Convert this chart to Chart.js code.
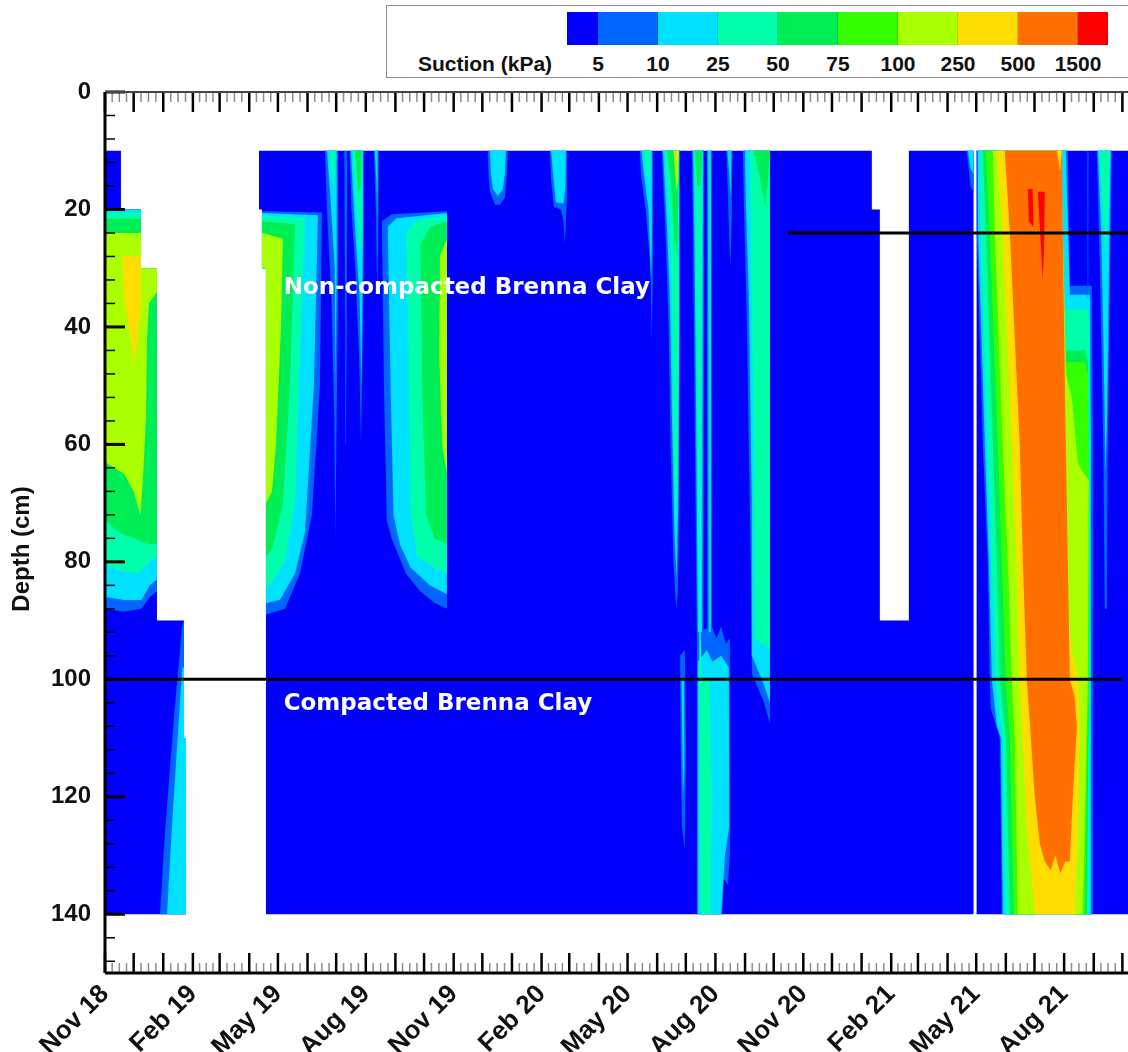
<!DOCTYPE html>
<html>
<head>
<meta charset="utf-8">
<script src="https://cdn.jsdelivr.net/npm/chart.js@4.4.1/dist/chart.umd.min.js"></script>
<style>
  html, body { margin: 0; padding: 0; background: #fff; overflow: hidden; }
  #wrap { position: relative; width: 1160px; height: 1052px; }
  #legend { position: absolute; left: 386px; top: 5px; width: 780px; height: 71px;
            border: 1px solid #8a8a8a; background: #fff; color: #111;
            font: bold 21px "Liberation Sans", Arial, sans-serif; }
  #legend .sw { position: absolute; top: 6px; height: 33px; }
  #legend .lab { position: absolute; top: 46px; transform: translateX(-50%); white-space: nowrap; }
</style>
</head>
<body>
<div id="wrap">
  <canvas id="chart" width="1160" height="1052"></canvas>
  <div id="legend"></div>
</div>
<script>
// ---- suction classes ----
const levelColors = ['#0000fa', '#0066ff', '#00e0ff', '#00ffaa', '#00ee55',
                     '#33ff00', '#aaff00', '#ffdd00', '#ff7000', '#ff0000'];
const levelLabels = ['5', '10', '25', '50', '75', '100', '250', '500', '1500'];

// ---- axes ----
const quarterLabels = ['Nov 18', 'Feb 19', 'May 19', 'Aug 19', 'Nov 19', 'Feb 20',
                       'May 20', 'Aug 20', 'Nov 20', 'Feb 21', 'May 21', 'Aug 21'];
const depthTicks = [0, 20, 40, 60, 80, 100, 120, 140];

// ---- layer boundaries and labels (x = days since 1 Nov 2018, y = depth cm) ----
const boundaryDepth = [100, 24];
const boundaryFrom = [0, 715];
const boundaryTo = [1065, 1096];
const soilLabels = ['Non-compacted Brenna Clay', 'Compacted Brenna Clay'];
const soilLabelDepth = [33.4, 104.2];
const soilLabelDay = 187;

// ---- contour regions: [suction class, polygon of [day, depth]] ----
const measured = [
  [0, [[0,10],[16.7,10],[16.7,20],[37.7,20],[37.7,30],[54.4,30],[54.4,90],[82.7,90],[82.7,110],[84.8,110],[84.8,140],[0,140]]],
  [0, [[161.2,10],[802.7,10],[802.7,20],[811.1,20],[811.1,90],[841.5,90],[841.5,10],[909.2,10],[909.2,140],[168.5,140],[168.5,30],[164.3,30],[164.3,20],[161.2,20]]],
  [0, [[912.4,10],[1096,10],[1096,140],[912.4,140]]]
];

const winter18 = [
  [1, [[0,20],[37.7,20],[37.7,30],[54.4,30],[54.4,85],[47,86],[38,88],[20,88.5],[0,88]]],
  [2, [[0,20],[37.7,20],[37.7,30],[54.4,30],[54.4,83],[47,84],[38,86.5],[20,86.5],[0,86]]],
  [3, [[0,20.6],[37.7,20.6],[37.7,30],[54.4,30.5],[54.4,79],[47,80],[35,82],[15,81.5],[0,80.5]]],
  [4, [[0,21.6],[37.7,21.6],[37.7,30],[54.4,31.5],[54.4,77],[45,77],[30,76],[15,75],[0,73]]],
  [6, [[0,24],[37.7,24],[37.7,30],[54.4,30],[54.4,34],[46,36],[44,42],[43,55],[40,65],[37,72],[30,68],[20,65],[0,63]]],
  [7, [[17.8,28],[37.7,28],[37.7,36],[35,41],[31,46],[27,42],[20,35]]],
  [1, [[80.6,91],[82.7,90],[82.7,110],[84.8,110],[84.8,140],[57.6,140],[62,128],[68,115],[74,103],[78,96]]],
  [2, [[81,98],[82.7,98],[82.7,110],[84.8,110],[84.8,140],[64.9,140],[69,128],[74,115],[78,105]]]
];

const summer19 = [
  [1, [[164.3,20.3],[227.1,20.5],[225,50],[216.6,72],[204.1,82],[188.4,88],[168.5,89],[168.5,30],[164.3,30]]],
  [2, [[164.3,20.6],[222.9,21],[218.7,50],[209.3,75],[198.9,82],[183.2,86.5],[168.5,87],[168.5,30],[164.3,30]]],
  [3, [[164.3,21],[209.3,21.5],[204.1,45],[198.9,70],[188.4,80],[172.7,84],[168.5,84],[168.5,30],[164.3,30]]],
  [4, [[164.3,22],[198.9,22.5],[193.6,50],[186.3,70],[174.8,78],[168.5,79],[168.5,30],[164.3,30]]],
  [6, [[164.3,24],[186.3,25],[184.2,40],[179,60],[174.8,68],[168.5,70],[168.5,30],[164.3,30]]],
  [1, [[230.3,10],[243.9,10],[243.9,35],[242.5,55],[241.2,76],[240,55],[237,35],[232.3,20]]],
  [2, [[232.3,10],[242.5,10],[242.5,30],[241.5,50],[240.5,30],[236,18]]],
  [3, [[235,10],[241,10],[240,16],[237.5,15]]],
  [1, [[250.5,10],[253.5,10],[253,40],[252,60],[251.5,40]]],
  [1, [[256,10],[271,10],[271,25],[269.5,45],[268,60],[266,45],[262,30],[258,20]]],
  [2, [[257.5,10],[270,10],[270,25],[268.5,50],[266.5,35],[262.5,25],[259.5,17]]],
  [3, [[259.5,10],[269.5,10],[269,22],[267,28],[264,22],[261.5,15]]],
  [4, [[262,10],[268.5,10],[268,16],[265,17]]],
  [1, [[281.5,10],[286.5,10],[286,25],[285,35],[283.5,20]]],
  [2, [[282.5,10],[285.5,10],[285,22],[284,15]]]
];

const autumn19 = [
  [1, [[289.9,22],[300,20.8],[357.9,20.3],[357.9,88],[345,87],[330,85],[315,82],[300,76],[295,73],[292,50]]],
  [2, [[296,23],[305,21.5],[357.9,20.6],[357.9,85.5],[340,84],[320,81],[308.7,77],[302,72],[299,50]]],
  [3, [[315,24],[325,22],[357.9,21],[357.9,82],[345,81],[326.5,79],[320,72],[318,45],[316,30]]],
  [4, [[330,26],[340,23],[357.9,22],[357.9,77],[345,76],[336,72],[332,50],[331,35]]],
  [6, [[350.6,28],[357.9,25],[357.9,65],[353,60],[350,45]]]
];

const winter20 = [
  [1, [[400.8,10],[421.8,10],[420.5,14],[418.6,18],[413.4,19.2],[408.2,19.2],[403,17],[401.5,14]]],
  [2, [[402.9,10],[419.7,10],[418.6,14],[416.5,16.5],[411.3,17.7],[406.1,16.5],[404,14]]],
  [1, [[465.7,10],[483.5,10],[483.5,18],[482.5,22],[481.4,26],[480,22],[477,20],[470,19.6],[467,15]]],
  [2, [[467,10],[482.5,10],[482,16],[480,19],[472,18.8],[469,14]]]
];

const summer20 = [
  [1, [[559.9,10],[573.5,10],[573.5,30],[572.5,43],[571,30],[566,20],[561,14]]],
  [2, [[561.5,10],[572.5,10],[572.5,25],[571.5,32],[569,20],[564,14]]],
  [3, [[564,10],[571,10],[570,15],[567,14]]],
  [1, [[583,10],[601.8,10],[601.8,40],[600.7,70],[599.7,85],[598,88],[595,80],[592,60],[590,40],[587,25]]],
  [2, [[584,10],[601,10],[601,40],[600,70],[598.5,83],[596,75],[593.4,55],[591.3,35],[588,22]]],
  [3, [[586,10],[600.5,10],[600.5,40],[599.7,65],[597.5,75],[595.5,60],[594,40],[591.3,22]]],
  [4, [[588,10],[600.5,10],[600,20],[599,28],[596,25],[592,15]]],
  [6, [[595,10],[600.5,10],[600,15],[598,17],[596.6,13]]],
  [7, [[597.5,10],[600.5,10],[599.7,12.5]]],
  [1, [[602,96],[607,95],[608,110],[607,129],[604,125],[602.5,110]]],
  [2, [[603.5,100],[606,100],[606.5,115],[605,120]]],
  [1, [[614.4,10],[627,10],[626.5,50],[626,92],[619.6,92],[617,50],[615.5,25]]],
  [1, [[630,10],[635.3,10],[635.3,92],[630.5,92],[630,50]]],
  [1, [[619.6,92],[635.3,91],[640,93],[645,91],[650,94],[654.1,93],[654.1,130],[652,135],[648,134],[646,140],[619.6,140]]],
  [2, [[615.5,10],[626,10],[625.5,50],[625,92],[620.6,92],[618.5,50],[617,25]]],
  [2, [[631,10],[634.3,10],[634.3,92],[632,92]]],
  [2, [[620.6,97],[630,95],[636,97],[645,96],[653,98],[653.5,125],[649,130],[645,140],[620.6,140]]],
  [3, [[617,10],[625,10],[624.5,50],[623.5,92],[622,92],[620,50],[618.5,25]]],
  [3, [[622,92],[623.5,92],[625,100],[633,100],[635.3,120],[634,140],[623.5,140],[622.5,110]]],
  [4, [[617.5,10],[625,10],[624,16],[620,16]]],
  [1, [[650.5,10],[656.7,10],[656,22],[654.5,30],[652.5,20]]],
  [2, [[651.5,10],[655.7,10],[655,18],[653.5,14]]],
  [1, [[667.7,10],[696,10],[696,107.5],[690,104],[677.2,99],[676,80],[672,40],[669,20]]],
  [2, [[669.8,10],[696,10],[696,104],[690,101],[677.2,96],[677,70],[674,35],[671,20]]],
  [3, [[675.1,10],[696,10],[696,95],[680.3,93],[679,60],[677,35],[676,20]]],
  [4, [[679,10],[696,10],[694,15],[690.8,19.5],[686,15],[682,12]]]
];

const summer21 = [
  [1, [[902,10],[909.2,10],[909.2,17],[906,16],[904,13]]],
  [2, [[903.2,10],[909.2,10],[909.2,14],[906,13]]],
  [1, [[912.4,10],[912.6,24],[918.9,60],[924.1,80],[926.2,100],[927.3,105],[936.7,110],[937.8,125],[938.8,140],[1034.1,140],[1034.1,60],[1033,33],[1010,33],[1007.9,10]]],
  [2, [[913.7,10],[914,24],[921,60],[925.2,80],[928.3,100],[933.6,108],[937.8,110],[939.8,140],[1032,140],[1032,60],[1031,34.5],[1010,34.5],[1005.8,10]]],
  [3, [[915.8,10],[916.8,24],[924.1,60],[928.3,80],[932.5,100],[939.8,110],[943,140],[1029.9,140],[1030.9,100],[1030.9,60],[1030,40],[1029,37],[1005,37],[1003.5,30],[1001,10]]],
  [4, [[918.9,10],[922.1,24],[929.4,60],[933.6,80],[936.7,100],[943,110],[947.2,140],[1027.8,140],[1029.9,100],[1029.9,65],[1028.8,46],[1026,44],[1005.5,44],[1003.5,30],[1001,10]]],
  [5, [[922.1,10],[926.2,24],[934.6,60],[938.8,80],[943,100],[947.2,110],[951.4,140],[1025.7,140],[1029.9,100],[1029.9,65],[1028.8,48],[1026,46],[1006,46],[1003.5,30],[1001,10]]],
  [6, [[929.4,10],[931.5,24],[939.8,60],[945.1,80],[949.3,100],[952.4,110],[955.5,140],[1023.6,140],[1028.8,100],[1029.9,66],[1022.5,64.5],[1018.4,63],[1012,52],[1006,48],[1003.5,30],[1001,10]]],
  [7, [[933.6,10],[939.8,24],[949.3,60],[954.5,80],[957.6,100],[965,125],[973.3,140],[1015.2,140],[1018.4,125],[1020.4,110],[1019,100],[1012,95],[1008.5,90],[1007.9,80],[1005.8,60],[1003,30],[1001,10]]],
  [8, [[941.9,10],[947.2,24],[957.6,60],[960.8,80],[965,100],[973.3,120],[978.6,128],[983.8,131],[990,132.5],[995,130],[1000,133],[1005,131],[1010,131],[1013.1,120],[1017.3,108],[1015,103],[1010,100],[1007.9,80],[1005.8,60],[1002.6,24],[1001.6,10]]],
  [7, [[996.5,10],[1001.6,10],[1000,13.5]]],
  [9, [[966,16.5],[971,16.5],[972,23],[967,22]]],
  [9, [[976.5,17],[983.8,17],[983,27],[981.5,32],[980,27]]],
  [1, [[1028.3,10],[1029.5,10],[1029.2,35],[1028.6,35]]],
  [1, [[1038.3,10],[1053.9,10],[1052,30],[1049.7,60],[1048.7,88],[1046.6,88],[1045,60],[1041.4,30]]],
  [2, [[1039.3,10],[1052.8,10],[1051,30],[1049,55],[1047.5,65],[1046,50],[1043,25]]],
  [3, [[1041.4,10],[1051.8,10],[1050,20],[1047,28],[1044.5,20]]]
];

const regions = [measured, winter18, summer19, autumn19, winter20, summer20, summer21];

// month starts for the time axis
const t0 = Date.UTC(2018, 10, 1);
const monthStarts = [];
for (let m = 0; m <= 36; m++) monthStarts.push((Date.UTC(2018, 10 + m, 1) - t0) / 864e5);
const quarterDays = monthStarts.filter((d, i) => i % 3 === 0 && i < 36);

// ---- datasets ----
const datasets = [];
regions.forEach(group => group.forEach(([lvl, pts]) => {
  datasets.push({
    data: pts.map(([x, y]) => ({ x, y })),
    backgroundColor: levelColors[lvl],
    borderColor: 'rgba(0,0,0,0)',
    borderWidth: 0,
    fill: 'shape',
    pointRadius: 0,
    order: -datasets.length
  });
}));
boundaryDepth.forEach((z, i) => {
  datasets.push({
    data: [{ x: boundaryFrom[i], y: z }, { x: boundaryTo[i], y: z }],
    borderColor: '#000',
    borderWidth: 3,
    fill: false,
    pointRadius: 0,
    order: -10000 - i
  });
});

const axisFont = { family: '"Liberation Sans", Arial, sans-serif', size: 24, weight: 'bold' };

const framePlugin = {
  id: 'frame',
  afterDatasetsDraw(chart) {
    const { ctx, scales: { x, y } } = chart;
    ctx.save();
    ctx.fillStyle = '#fff';
    ctx.font = 'bold 23px "DejaVu Sans", sans-serif';
    ctx.textBaseline = 'middle';
    soilLabels.forEach((t, i) => {
      ctx.fillText(t, x.getPixelForValue(soilLabelDay), y.getPixelForValue(soilLabelDepth[i]));
    });
    ctx.restore();
  },
  afterDraw(chart) {
    const { ctx, chartArea: a, scales: { x, y } } = chart;
    const seg = (x1, y1, x2, y2) => { ctx.beginPath(); ctx.moveTo(x1, y1); ctx.lineTo(x2, y2); ctx.stroke(); };
    ctx.save();
    // minor time ticks
    ctx.strokeStyle = '#8c8c8c';
    ctx.lineWidth = 1.5;
    for (let i = 0; i < monthStarts.length - 1; i++) {
      const d0 = monthStarts[i], d1 = monthStarts[i + 1];
      for (let k = 1; k < 4; k++) {
        const px = x.getPixelForValue(d0 + (d1 - d0) * k / 4);
        seg(px, a.top, px, a.top + 10);
        seg(px, a.bottom, px, a.bottom - 10);
      }
    }
    // major time ticks
    ctx.strokeStyle = '#000';
    ctx.lineWidth = 2.5;
    monthStarts.forEach(d => {
      const px = x.getPixelForValue(d);
      seg(px, a.top, px, a.top + 20);
      seg(px, a.bottom, px, a.bottom - 20);
    });
    // depth ticks
    for (let z = 0; z <= 150; z += 4) {
      if (z % 20 === 0) continue;
      const py = y.getPixelForValue(z);
      ctx.lineWidth = 1.5;
      seg(a.left, py, a.left + 10, py);
    }
    depthTicks.forEach(z => {
      const py = y.getPixelForValue(z);
      ctx.lineWidth = 3;
      seg(a.left, py, a.left + 20, py);
    });
    // frame
    ctx.strokeStyle = '#444';
    ctx.lineWidth = 2;
    seg(a.left, a.top, a.right, a.top);
    ctx.strokeStyle = '#000';
    ctx.lineWidth = 3;
    seg(a.left, a.bottom, a.right, a.bottom);
    seg(a.left, a.top, a.left, a.bottom);
    // axis title
    ctx.translate(22, 549);
    ctx.rotate(-Math.PI / 2);
    ctx.fillStyle = '#111';
    ctx.font = 'bold 24px "Liberation Sans", Arial, sans-serif';
    ctx.textAlign = 'center';
    ctx.textBaseline = 'middle';
    ctx.fillText('Depth (cm)', 0, 0);
    ctx.restore();
  }
};

new Chart(document.getElementById('chart'), {
  type: 'line',
  data: { datasets },
  options: {
    responsive: false,
    animation: false,
    devicePixelRatio: 1,
    events: [],
    layout: { padding: { top: 92, right: 8, left: 0, bottom: 0 } },
    plugins: { legend: { display: false }, tooltip: { enabled: false } },
    elements: { line: { tension: 0 }, point: { radius: 0 } },
    scales: {
      x: {
        type: 'linear', min: 0, max: 1096,
        grid: { display: false, drawTicks: false },
        border: { display: false },
        afterFit: s => { s.height = 79; },
        afterBuildTicks: s => { s.ticks = quarterDays.map(v => ({ value: v })); },
        ticks: {
          autoSkip: false, minRotation: 45, maxRotation: 45, padding: 6,
          color: '#111', font: { ...axisFont, size: 26 },
          callback: (v, i) => quarterLabels[i]
        }
      },
      y: {
        type: 'linear', reverse: true, min: 0, max: 150,
        grid: { display: false, drawTicks: false },
        border: { display: false },
        afterFit: s => { s.width = 105; },
        afterBuildTicks: s => { s.ticks = depthTicks.map(v => ({ value: v })); },
        ticks: { padding: 14, color: '#111', font: axisFont }
      }
    }
  },
  plugins: [framePlugin]
});

// ---- colour legend ----
const legend = document.getElementById('legend');
const edges = [180, 211, 271, 331, 391, 451, 511, 571, 631, 691, 721];
levelColors.forEach((c, i) => {
  const sw = document.createElement('div');
  sw.className = 'sw';
  sw.style.left = edges[i] + 'px';
  sw.style.width = (edges[i + 1] - edges[i]) + 'px';
  sw.style.background = c;
  sw.style.boxShadow = 'inset -1px 0 0 rgba(0,0,0,0.15)';
  legend.appendChild(sw);
});
const title = document.createElement('div');
title.className = 'lab';
title.style.left = '98px';
title.textContent = 'Suction (kPa)';
legend.appendChild(title);
levelLabels.forEach((t, i) => {
  const lab = document.createElement('div');
  lab.className = 'lab';
  lab.style.left = edges[i + 1] + 'px';
  lab.textContent = t;
  legend.appendChild(lab);
});
</script>
</body>
</html>
